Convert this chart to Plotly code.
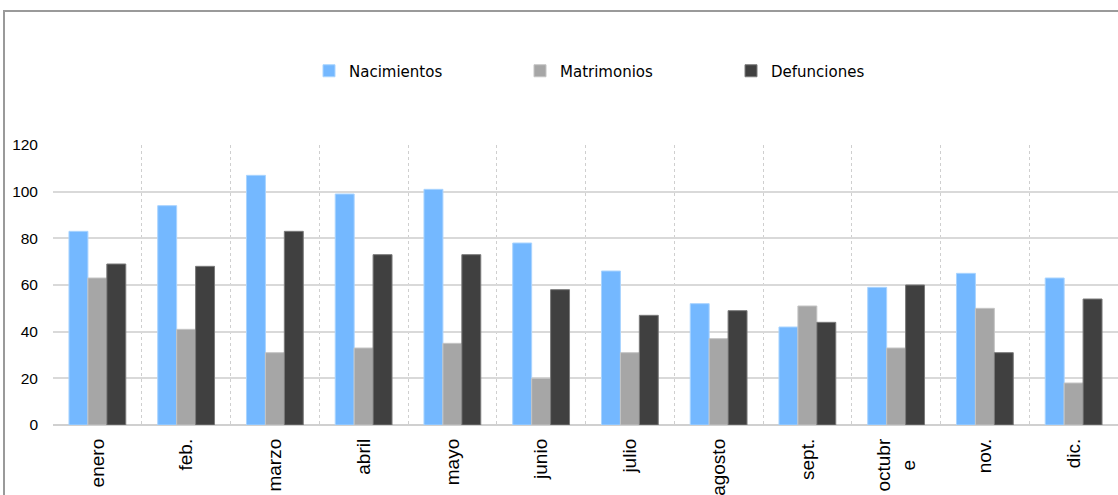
import plotly.graph_objects as go

# Monthly vital statistics
meses = ["enero", "feb.", "marzo", "abril", "mayo", "junio", "julio",
         "agosto", "sept.", "octubr<br>e\u00a0\u00a0\u00a0\u00a0", "nov.", "dic."]
nacimientos = [83, 94, 107, 99, 101, 78, 66, 52, 42, 59, 65, 63]
matrimonios = [63, 41, 31, 33, 35, 20, 31, 37, 51, 33, 50, 18]
defunciones = [69, 68, 83, 73, 73, 58, 47, 49, 44, 60, 31, 54]
y_ticks = [0, 20, 40, 60, 80, 100, 120]

series = [
    ("Nacimientos", nacimientos, "#74b8ff", "#a9d4ff"),
    ("Matrimonios", matrimonios, "#a6a6a6", "#c4c4c4"),
    ("Defunciones", defunciones, "#404040", "#7a7a7a"),
]

fig = go.Figure()
for name, vals, color, edge in series:
    fig.add_trace(go.Bar(
        x=meses, y=vals, name=name,
        marker=dict(color=color, line=dict(color=edge, width=1)),
    ))

W, H = 1118, 495
L, R, T, B = 53, 0, 145, 70
pw, ph = W - L - R, H - T - B

fig.update_layout(
    width=W, height=H,
    margin=dict(l=L, r=R, t=T, b=B, pad=0),
    paper_bgcolor="white", plot_bgcolor="white",
    barmode="group", bargap=0.36, bargroupgap=0,
    showlegend=True,
    legend=dict(
        orientation="h", x=(309 - L) / pw, xanchor="left",
        y=(H - B - 71) / ph, yanchor="middle",
        font=dict(family="DejaVu Sans", size=15, color="#000000"),
        entrywidth=166, itemwidth=30,
        bgcolor="rgba(0,0,0,0)",
    ),
    font=dict(family="Liberation Sans, Arial", color="#000000"),
    xaxis=dict(
        type="category", tickson="boundaries",
        showgrid=True, gridcolor="#cfcfcf", griddash="dot", gridwidth=1,
        tickangle=-90, tickfont=dict(size=19),
        ticks="", ticklabelstandoff=9,
        showline=False, zeroline=False,
    ),
    yaxis=dict(
        range=[0, 120], tickvals=y_ticks,
        showgrid=True, gridcolor="#d9d9d9", gridwidth=2,
        tickfont=dict(size=15.5), ticks="", ticklabelstandoff=14,
        showline=False, zeroline=True, zerolinecolor="#d0d0d0", zerolinewidth=2,
    ),
    shapes=[
        # outer chart frame
        dict(type="rect", xref="paper", yref="paper",
             x0=(4 - L) / pw, x1=(W + 20 - L) / pw,
             y0=-(B + 20) / ph, y1=(H - B - 11) / ph,
             line=dict(color="#9a9a9a", width=2), fillcolor="rgba(0,0,0,0)",
             layer="below"),
    ],
)

fig.write_html("out.html")
